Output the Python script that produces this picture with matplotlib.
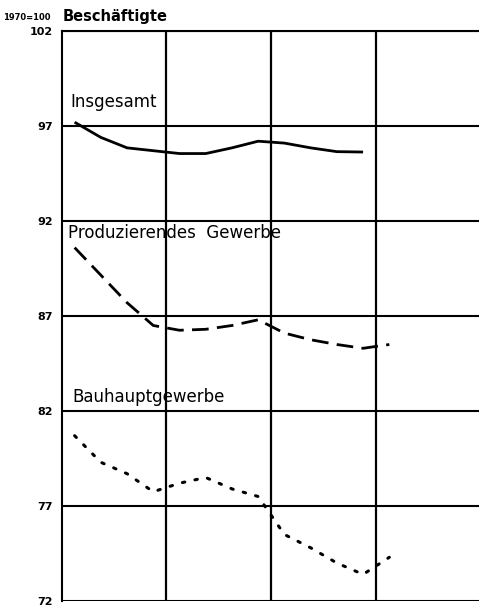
import numpy as np
import matplotlib
matplotlib.use("Agg")
import matplotlib.pyplot as plt

# Quarterly index values, 1970 = 100
quarters = ["71Q1", "71Q2", "71Q3", "71Q4", "72Q1", "72Q2", "72Q3", "72Q4",
            "73Q1", "73Q2", "73Q3", "73Q4", "74Q1"]
insgesamt = [97.2, 96.4, 95.85, 95.7, 95.55, 95.55, 95.85, 96.2, 96.1, 95.85, 95.65, 95.63]
produzierendes = [90.6, 89.15, 87.7, 86.5, 86.25, 86.3, 86.5, 86.8, 86.1, 85.75, 85.5, 85.3, 85.5]
bauhaupt = [80.7, 79.3, 78.7, 77.75, 78.2, 78.5, 77.9, 77.5, 75.5, 74.8, 74.0, 73.4, 74.3]
yticks = [72, 77, 82, 87, 92, 97, 102]
series_labels = ["Insgesamt", "Produzierendes  Gewerbe", "Bauhauptgewerbe"]


def qpos(labels):
    out = []
    for q in labels:
        yr = int(q[:2]) - 71
        qi = int(q[-1])
        out.append(yr + (qi - 0.5) / 4)
    return np.array(out)


x_all = qpos(quarters)

fig = plt.figure(figsize=(4.79, 6.09), dpi=100)
ax = fig.add_axes([61.5 / 479, 8 / 609, 417.5 / 479, 570 / 609])

ax.set_xlim(0, 3.98)
ax.set_ylim(72, 102)

for y in yticks:
    ax.axhline(y, color="black", lw=1.5, zorder=1)
for xv in [1, 2, 3]:
    ax.axvline(xv, color="black", lw=1.6, zorder=1)

ax.plot(x_all[:len(insgesamt)], insgesamt, color="black", lw=2.0,
        solid_capstyle="butt", zorder=3)
ax.plot(x_all[:len(produzierendes)], produzierendes, color="black", lw=2.0,
        dashes=(6, 3), zorder=3)
ax.plot(x_all[:len(bauhaupt)], bauhaupt, color="black", lw=2.2,
        linestyle=(0, (0.8, 3.4)), dash_capstyle="round", zorder=3)

ax.text(0.08, 98.25, series_labels[0], fontsize=12, va="center", ha="left",
        zorder=4)
ax.text(0.06, 91.35, series_labels[1], fontsize=12, va="center", ha="left",
        zorder=4)
ax.text(0.1, 82.75, series_labels[2], fontsize=12, va="center", ha="left",
        zorder=4)

ax.set_yticks(yticks)
ax.set_yticklabels([str(v) for v in yticks], fontsize=8, fontweight="bold")
ax.tick_params(axis="y", length=0, pad=6)
ax.set_xticks([])

for side in ["right", "bottom"]:
    ax.spines[side].set_visible(False)
ax.spines["left"].set_linewidth(1.5)
ax.spines["top"].set_linewidth(1.5)

fig.text(3 / 479, 1 - 18 / 609, "1970=100", fontsize=6, fontweight="bold",
         va="center", ha="left")
fig.text(63 / 479, 1 - 17 / 609, "Beschäftigte", fontsize=10.5, fontweight="bold",
         va="center", ha="left")

fig.savefig("out.png", dpi=100)
